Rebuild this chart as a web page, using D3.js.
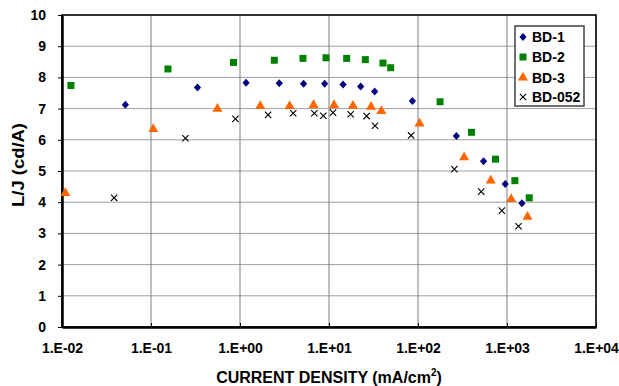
<!DOCTYPE html>
<html>
<head>
<meta charset="utf-8">
<script src="https://cdn.jsdelivr.net/npm/d3@7"></script>
<style>
  body { margin: 0; background: #fff; }
  text { font-family: "Liberation Sans", Arial, sans-serif; font-weight: bold; fill: #000; }
</style>
</head>
<body>
<div id="chart"></div>
<script>
// data: current density (mA/cm2), L/J (cd/A)
var bd1X = [0.0515, 0.333, 1.17, 2.76, 5.18, 8.93, 14.4, 22.7, 32.6, 86.5, 270, 545, 955, 1470];
var bd1Y = [7.12, 7.68, 7.83, 7.81, 7.80, 7.80, 7.77, 7.71, 7.55, 7.24, 6.12, 5.31, 4.58, 3.97];

var bd2X = [0.0126, 0.155, 0.845, 2.43, 5.1, 9.25, 15.8, 25.6, 40.4, 49.3, 177, 399, 743, 1225, 1778];
var bd2Y = [7.74, 8.27, 8.48, 8.55, 8.61, 8.63, 8.61, 8.57, 8.46, 8.31, 7.22, 6.24, 5.38, 4.69, 4.14];

var bd3X = [0.0109, 0.106, 0.558, 1.69, 3.61, 6.71, 11.4, 18.6, 29.7, 38.7, 104, 330, 657, 1114, 1702];
var bd3Y = [4.29, 6.34, 6.99, 7.08, 7.08, 7.11, 7.11, 7.09, 7.06, 6.92, 6.52, 5.44, 4.69, 4.10, 3.53];

var bd052X = [0.0385, 0.244, 0.889, 2.07, 3.96, 6.84, 8.63, 11.1, 17.5, 26.5, 32.9, 83.6, 256, 513, 875, 1346];
var bd052Y = [4.14, 6.05, 6.67, 6.80, 6.85, 6.85, 6.77, 6.87, 6.82, 6.76, 6.45, 6.14, 5.06, 4.34, 3.73, 3.23];

var seriesNames = ["BD-1", "BD-2", "BD-3", "BD-052"];
var xTicks = [1e-2, 1e-1, 1e0, 1e1, 1e2, 1e3, 1e4];
var xTickLabels = ["1.E-02", "1.E-01", "1.E+00", "1.E+01", "1.E+02", "1.E+03", "1.E+04"];
var yTicks = [0, 1, 2, 3, 4, 5, 6, 7, 8, 9, 10];

var width = 619, height = 386;
var margin = {top: 15, right: 23, bottom: 59, left: 62};
var w = width - margin.left - margin.right;
var h = height - margin.top - margin.bottom;

var svg = d3.select("#chart").append("svg")
    .attr("width", width)
    .attr("height", height);

var g = svg.append("g")
    .attr("transform", "translate(" + margin.left + "," + margin.top + ")");

var x = d3.scaleLog().domain([1e-2, 1e4]).range([0, w]);
var y = d3.scaleLinear().domain([0, 10]).range([h, 0]);

// grid
g.selectAll(".hgrid")
    .data(yTicks)
    .enter().append("line")
    .attr("x1", 0).attr("x2", w)
    .attr("y1", function(d) { return y(d); })
    .attr("y2", function(d) { return y(d); })
    .attr("stroke", "#a0a0a0")
    .attr("stroke-width", 1);

g.selectAll(".vgrid")
    .data(xTicks)
    .enter().append("line")
    .attr("x1", function(d) { return x(d); })
    .attr("x2", function(d) { return x(d); })
    .attr("y1", 0).attr("y2", h)
    .attr("stroke", "#808080")
    .attr("stroke-width", 1);

// frame
g.append("rect")
    .attr("width", w).attr("height", h)
    .attr("fill", "none")
    .attr("stroke", "#000")
    .attr("stroke-width", 1.5);

// axes
var xAxis = d3.axisBottom(x)
    .tickValues(xTicks)
    .tickFormat(function(d, i) { return xTickLabels[i]; })
    .tickSizeInner(-4).tickSizeOuter(0).tickPadding(16);

var yAxis = d3.axisLeft(y)
    .tickValues(yTicks)
    .tickSizeInner(4).tickSizeOuter(0).tickPadding(12);

var gx = g.append("g")
    .attr("transform", "translate(0," + h + ")")
    .call(xAxis);
var gy = g.append("g").call(yAxis);

[gx, gy].forEach(function(a) {
    a.select(".domain").attr("stroke", "#000").attr("stroke-width", 2.5);
    a.selectAll(".tick line").attr("stroke", "#000");
    a.selectAll(".tick text")
        .style("font-family", "'Liberation Sans', Arial, sans-serif")
        .style("font-weight", "bold")
        .style("font-size", "14px")
        .attr("fill", "#000");
});

// titles
var xt = svg.append("text")
    .attr("x", 329)
    .attr("y", 383)
    .attr("text-anchor", "middle")
    .style("font-size", "16px");
xt.append("tspan").text("CURRENT DENSITY (mA/cm");
xt.append("tspan").attr("dy", -7).style("font-size", "10px").text("2");
xt.append("tspan").attr("dy", 7).text(")");

svg.append("text")
    .attr("transform", "translate(24,165) rotate(-90)")
    .attr("text-anchor", "middle")
    .attr("textLength", 84)
    .attr("lengthAdjust", "spacingAndGlyphs")
    .style("font-size", "16px")
    .text("L/J (cd/A)");

// markers
function diamond() { return "M0,-4L3.6,0L0,4L-3.6,0Z"; }
var square = d3.symbol().type(d3.symbolSquare).size(49);
var triangle = d3.symbol().type(d3.symbolTriangle).size(44);
var cross = d3.symbol().type(d3.symbolTimes).size(28);

function pts(xs, ys) {
    return xs.map(function(d, i) { return {x: d, y: ys[i]}; });
}

var series = [
    {name: seriesNames[0], data: pts(bd1X, bd1Y), sym: diamond, fill: "#000080", stroke: "none"},
    {name: seriesNames[1], data: pts(bd2X, bd2Y), sym: square, fill: "#008000", stroke: "none"},
    {name: seriesNames[2], data: pts(bd3X, bd3Y), sym: triangle, fill: "#ff6600", stroke: "none"},
    {name: seriesNames[3], data: pts(bd052X, bd052Y), sym: cross, fill: "none", stroke: "#000"}
];

series.forEach(function(s) {
    g.selectAll(null)
        .data(s.data)
        .enter().append("path")
        .attr("d", s.sym)
        .attr("transform", function(d) { return "translate(" + x(d.x) + "," + y(d.y) + ")"; })
        .attr("fill", s.fill)
        .attr("stroke", s.stroke)
        .attr("stroke-width", 1.1);
});

// legend
var lg = svg.append("g").attr("transform", "translate(515,26)");
lg.append("rect")
    .attr("width", 69).attr("height", 80)
    .attr("fill", "#fff")
    .attr("stroke", "#404040")
    .attr("stroke-width", 1.5);

var ly = [11, 31, 51.5, 71];
series.forEach(function(s, i) {
    lg.append("path")
        .attr("d", s.sym)
        .attr("transform", "translate(8," + ly[i] + ")")
        .attr("fill", s.fill)
        .attr("stroke", s.stroke)
        .attr("stroke-width", 1.1);
    lg.append("text")
        .attr("x", 17)
        .attr("y", ly[i] + 5)
        .style("font-size", "14px")
        .text(s.name);
});
</script>
</body>
</html>
